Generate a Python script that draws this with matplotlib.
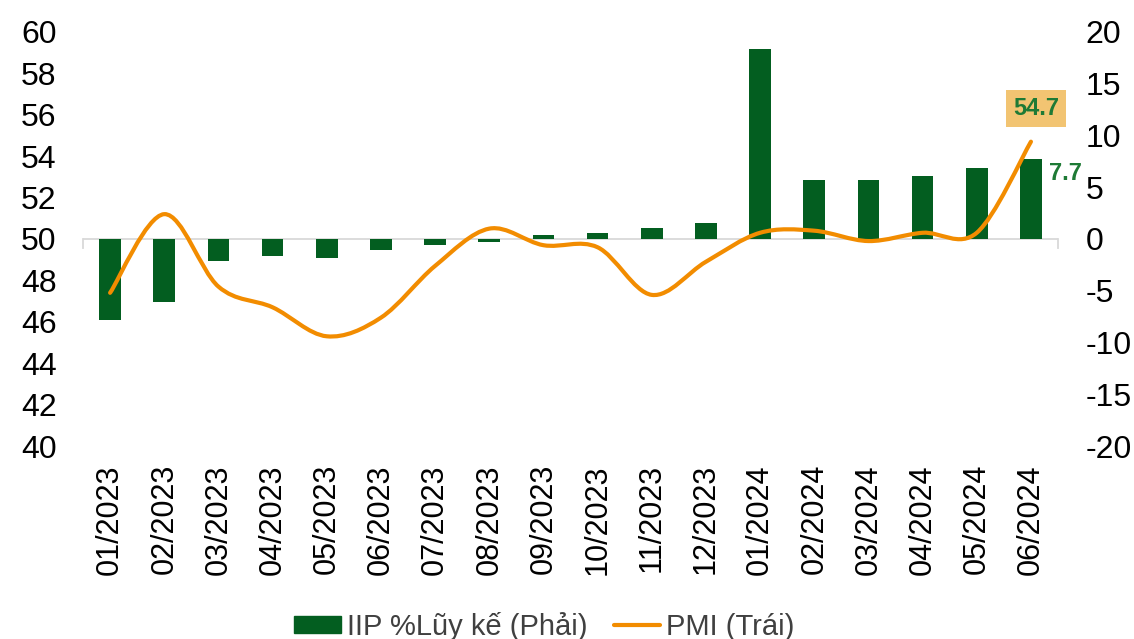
import matplotlib.pyplot as plt
import numpy as np
from matplotlib.path import Path
from matplotlib.patches import PathPatch, Patch
from matplotlib.lines import Line2D

months = ["01/2023", "02/2023", "03/2023", "04/2023", "05/2023", "06/2023",
          "07/2023", "08/2023", "09/2023", "10/2023", "11/2023", "12/2023",
          "01/2024", "02/2024", "03/2024", "04/2024", "05/2024", "06/2024"]
iip = [-7.8, -6.1, -2.1, -1.6, -1.8, -1.1, -0.6, -0.3, 0.4, 0.6, 1.1, 1.5,
       18.4, 5.7, 5.7, 6.1, 6.9, 7.7]
pmi = [47.4, 51.2, 47.7, 46.7, 45.3, 46.2, 48.7, 50.5, 49.7, 49.6, 47.3, 48.9,
       50.3, 50.4, 49.9, 50.3, 50.3, 54.7]

BAR_COLOR = "#035e20"
LINE_COLOR = "#f28c00"
LABEL_GREEN = "#1e7a35"

plt.rcParams['font.family'] = ['Liberation Sans', 'DejaVu Sans']
plt.rcParams['axes.unicode_minus'] = False
FS = 23

fig = plt.figure(figsize=(11.34, 6.39), dpi=100)
ax = fig.add_axes([0.0732, 0.302, 0.8598, 0.648])
ax2 = ax.twinx()
# line axis (left) drawn above bars (right)
ax.set_zorder(ax2.get_zorder() + 1)
ax.patch.set_visible(False)

x = np.arange(len(months))

# bars on right axis
ax2.bar(x, iip, width=0.4, color=BAR_COLOR, zorder=2)
ax2.axhline(0, color="#d9d9d9", lw=1.3, zorder=1)
for xe in (-0.5, len(months) - 0.5):
    ax2.plot([xe, xe], [0, -0.85], color="#d9d9d9", lw=1.3, zorder=1, clip_on=False)

# smoothed PMI line (excel-like bezier)
px = x.astype(float)
py = np.array(pmi)
verts = [(px[0], py[0])]
codes = [Path.MOVETO]
n = len(px)
for i in range(n - 1):
    p0 = np.array([px[max(i - 1, 0)], py[max(i - 1, 0)]])
    p1 = np.array([px[i], py[i]])
    p2 = np.array([px[i + 1], py[i + 1]])
    p3 = np.array([px[min(i + 2, n - 1)], py[min(i + 2, n - 1)]])
    c1 = p1 + (p2 - p0) / 6.0
    c2 = p2 - (p3 - p1) / 6.0
    verts += [tuple(c1), tuple(c2), tuple(p2)]
    codes += [Path.CURVE4] * 3
ax.add_patch(PathPatch(Path(verts, codes), fill=False, edgecolor=LINE_COLOR,
                       lw=3.0, capstyle="round", joinstyle="round", zorder=3))

ax.set_xlim(-0.5, len(months) - 0.5)
ax.set_ylim(40, 60)
ax.set_yticks(np.arange(40, 61, 2))
ax2.set_ylim(-20, 20)
ax2.set_yticks(np.arange(-20, 21, 5))

ax.set_xticks(x)
ax.set_xticklabels(months, rotation=90, fontsize=22)
ax.tick_params(axis="x", length=0, pad=13)
ax.tick_params(axis="y", length=0, pad=19, labelsize=FS)
ax2.tick_params(axis="y", length=0, pad=20, labelsize=FS)
for a in (ax, ax2):
    for s in a.spines.values():
        s.set_visible(False)

# labels
ax.text(x[-1] + 0.1, pmi[-1] + 1.6, "54.7", ha="center", va="center", fontsize=17,
        fontweight="bold", color=LABEL_GREEN,
        bbox=dict(boxstyle="square,pad=0.3", fc="#f2c472", ec="none"))
ax2.text(x[-1] + 0.33, iip[-1] - 0.3, "7.7", ha="left", va="top", fontsize=17,
         fontweight="bold", color=LABEL_GREEN)

handles = [Patch(color=BAR_COLOR), Line2D([0], [0], color=LINE_COLOR, lw=3.0, solid_capstyle="round")]
fig.legend(handles, ["IIP %Lũy kế (Phải)", "PMI (Trái)"], loc="center",
           bbox_to_anchor=(0.48, 0.02), ncol=2, frameon=False, fontsize=21,
           labelcolor="#404040", handlelength=1.6, handleheight=0.5,
           handletextpad=0.2, columnspacing=0.9)

fig.savefig("out.png", dpi=100)
